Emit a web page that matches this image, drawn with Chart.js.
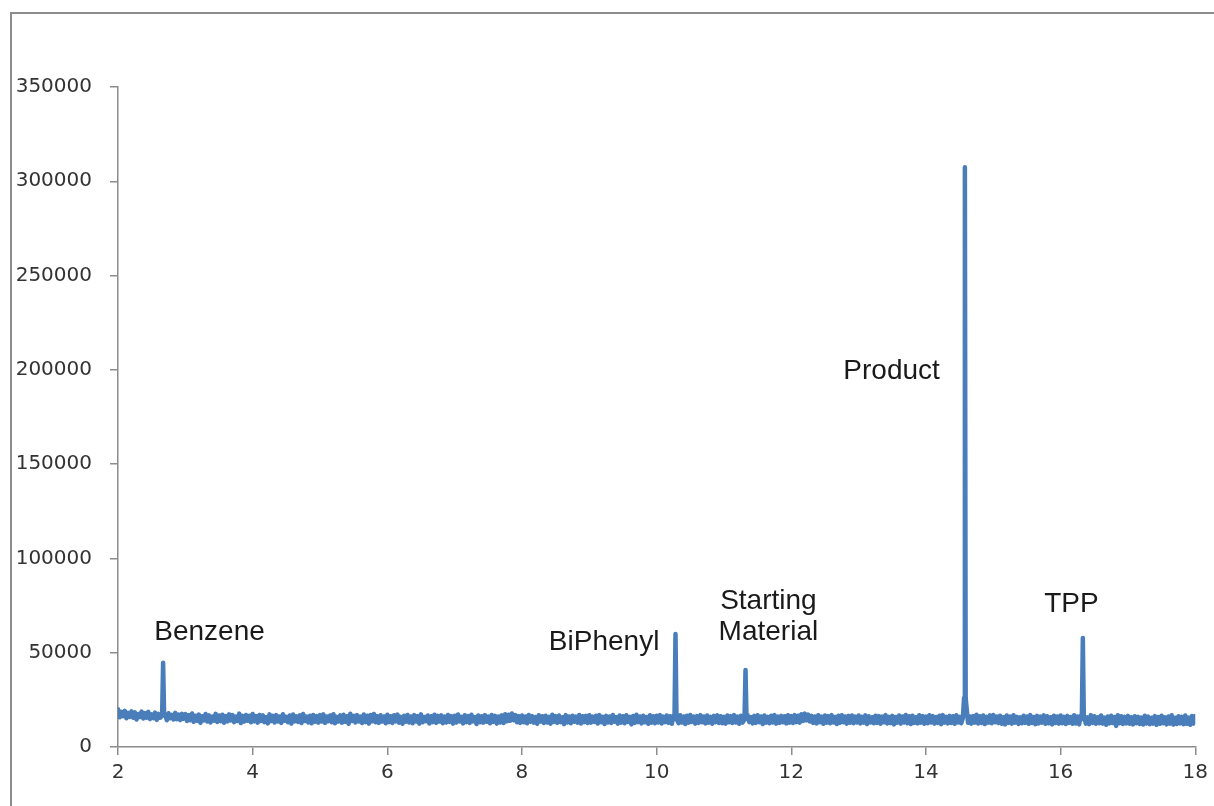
<!DOCTYPE html>
<html>
<head>
<meta charset="utf-8">
<script src="https://cdn.jsdelivr.net/npm/chart.js@4.4.1/dist/chart.umd.min.js"></script>
<style>
  html, body { margin: 0; padding: 0; background: #ffffff; }
  body { width: 1214px; height: 806px; position: relative; overflow: hidden; }
  #frame { position: absolute; left: 10px; top: 12px; width: 1300px; height: 900px;
           border-top: 2px solid #8c8c8c; border-left: 2px solid #8c8c8c; box-sizing: border-box; }
  #wrap { position: absolute; left: 0; top: 0; width: 1214px; height: 806px; }
</style>
</head>
<body>
<div id="frame"></div>
<div id="wrap"><canvas id="c" width="1214" height="806"></canvas></div>
<script>
// Retention time sampling of the baseline (minutes)
const baseStart = 2.0;
const midStart = 2.025;
const baseStep = 0.05;
// Baseline detector signal (thousands of counts), samples at 2.000, 2.050, ... 18.000
const baselineHiK = [
  20.0,18.6,19.2,18.1,18.9,18.4,17.5,18.8,18.0,18.6,17.3,18.2,17.6,18.5,17.4,17.9,17.0,18.1,17.2,17.6,
  17.4,16.9,17.8,16.6,17.2,16.3,17.5,16.8,16.2,17.6,16.7,17.1,16.4,17.3,16.9,16.1,17.7,16.5,17.0,16.6,
  17.5,16.4,17.0,16.8,15.9,17.3,16.5,16.9,16.2,17.4,16.0,16.7,17.2,16.3,16.8,17.5,16.1,16.6,17.0,16.4,
  16.9,17.3,16.2,16.7,17.4,16.0,16.8,17.1,16.3,17.6,16.5,16.9,16.1,17.2,16.6,17.0,17.5,16.4,16.8,16.2,
  17.1,16.3,16.8,17.2,16.0,16.6,17.0,16.2,16.9,16.4,17.3,15.9,16.7,16.3,17.1,16.5,16.8,16.1,17.0,16.4,
  16.6,17.2,16.0,16.8,16.4,17.1,15.8,16.7,16.3,16.9,16.1,17.0,16.5,16.2,16.8,17.4,17.1,17.8,16.9,16.4,
  16.7,16.2,17.0,16.4,15.9,16.8,16.3,16.6,16.0,17.1,16.4,16.7,15.8,16.9,16.2,16.6,16.1,17.0,16.3,16.5,
  16.8,16.1,16.6,16.9,16.0,16.5,16.2,17.0,15.9,16.7,16.3,16.8,16.0,16.4,17.1,16.2,16.6,15.9,16.8,16.3,
  16.6,16.9,16.1,16.7,16.3,16.5,16.0,16.8,16.2,16.6,17.0,16.1,16.4,16.9,16.2,16.7,16.0,16.5,16.8,16.3,
  16.0,16.7,16.4,16.9,16.1,16.6,16.3,17.0,15.9,16.5,16.8,16.2,16.7,16.0,16.6,16.9,16.1,16.5,16.3,16.8,
  16.4,16.9,16.6,17.4,17.7,17.2,16.5,16.2,16.8,16.1,16.7,16.4,16.9,15.9,16.6,16.8,16.2,16.5,16.7,16.1,
  16.7,16.0,16.8,16.3,15.8,16.6,16.4,16.1,16.9,16.0,16.5,15.9,16.7,16.2,17.0,16.3,16.6,15.8,16.8,16.4,
  16.1,16.8,16.4,15.9,16.6,16.9,16.0,16.5,16.3,16.8,16.0,16.6,16.9,16.2,16.4,17.1,16.3,16.7,16.0,16.8,
  17.0,16.2,16.6,15.8,16.7,16.1,16.8,16.0,15.7,16.6,16.2,16.9,15.9,16.5,16.1,16.8,16.3,15.8,16.6,16.2,
  16.7,16.0,16.5,15.9,16.8,16.2,16.6,16.1,15.7,16.9,16.3,15.8,16.7,15.6,16.2,16.6,15.9,16.8,16.3,16.0,
  16.5,15.8,16.3,16.0,15.6,16.6,16.1,15.5,16.4,15.9,16.6,15.7,16.2,16.8,15.5,16.3,16.0,16.7,15.6,16.4,
  16.4
];
// Intermediate baseline samples (thousands of counts) at 2.025, 2.075, ... 17.975
const baselineLoK = [
  15.8,16.4,15.2,16.0,15.5,14.6,15.9,15.1,15.6,14.8,15.3,14.4,15.5,14.9,14.2,15.3,14.6,14.8,14.3,15.0,
  13.8,14.2,13.4,13.9,12.8,14.1,13.5,13.0,14.0,13.3,13.7,12.9,13.6,14.1,13.2,13.8,12.7,13.5,13.9,13.1,
  13.6,12.9,13.8,13.2,12.5,13.7,13.0,13.5,12.8,13.9,13.1,12.4,13.6,13.3,12.7,13.8,13.0,12.6,13.4,12.9,
  13.5,12.8,13.7,13.1,12.6,13.6,12.9,13.4,12.3,13.8,13.0,13.5,12.7,13.2,12.4,13.6,13.1,12.8,13.5,12.6,
  13.2,12.7,13.6,12.9,12.3,13.4,13.0,12.6,13.5,12.4,13.1,13.7,12.5,13.2,12.8,13.5,12.6,13.0,13.3,12.4,
  13.0,13.5,12.5,13.2,12.8,13.6,12.2,13.1,12.9,13.4,12.6,13.3,12.4,13.0,12.7,13.6,13.9,14.2,13.1,12.8,
  13.1,12.6,13.4,12.9,12.3,13.5,12.7,13.0,12.4,13.3,12.8,13.2,12.1,13.0,12.6,13.4,12.9,12.5,13.2,12.7,
  12.9,13.3,12.5,13.1,12.2,13.0,12.7,13.4,12.4,12.9,12.6,13.3,12.0,12.8,13.2,12.5,13.1,12.3,12.9,12.6,
  13.0,12.5,13.2,12.8,12.3,13.1,12.6,13.0,12.2,12.9,13.3,12.4,12.8,13.1,12.5,12.9,12.3,13.2,12.7,12.6,
  12.4,13.1,12.7,13.0,12.3,12.9,12.6,13.2,12.5,12.8,13.1,12.2,12.9,12.6,13.0,12.4,12.8,13.1,12.5,12.9,
  12.7,13.2,12.9,13.8,14.1,13.5,12.8,12.5,13.1,12.3,12.9,12.6,13.0,12.2,12.8,13.1,12.4,12.9,12.6,13.0,
  12.5,12.9,12.2,13.0,12.6,12.8,12.3,13.1,12.5,12.7,12.0,12.9,12.4,13.0,12.6,12.2,12.8,12.5,12.9,12.3,
  12.6,13.0,12.4,12.8,12.1,12.9,12.5,12.7,12.3,13.0,12.6,12.2,12.8,12.4,12.9,12.5,12.7,12.2,12.9,12.6,
  13.1,12.7,12.3,12.0,12.8,12.4,12.9,12.2,12.6,12.8,12.3,12.7,12.1,12.5,12.9,12.3,12.6,12.0,12.7,12.4,
  12.6,12.2,12.8,12.3,12.5,12.0,12.7,12.4,12.1,12.8,12.3,12.6,12.4,11.8,12.5,12.7,11.2,12.6,12.2,12.5,
  12.3,12.0,12.6,12.2,11.9,12.5,12.1,12.4,11.8,12.3,12.6,12.0,12.4,11.9,12.2,12.5,12.1,12.3,11.8,12.4
];

// Peak profiles: [time (min), signal (thousands)]
const peakBenzene  = [[2.655,16.5],[2.67,44.7],[2.685,16.8]];
const peakBiPhenyl = [[10.265,14.8],[10.28,59.9],[10.295,15.2]];
const peakStarting = [[11.305,14.6],[11.32,40.8],[11.335,15.0]];
const peakProduct  = [[14.548,15.5],[14.566,26.0],[14.578,307.5],[14.590,26.0],[14.612,17.5]];
const peakTPP      = [[16.315,14.8],[16.33,57.8],[16.345,15.4]];

// Annotation labels: text lines, anchor time, anchor signal
const labelTexts = [["Benzene"], ["BiPhenyl"], ["Starting", "Material"], ["Product"], ["TPP"]];
const labelTimes = [3.36, 9.22, 11.66, 13.49, 16.16];
const labelSignals = [61000, 55700, 77400, 199400, 75800];

// Axis ticks
const xTicks = [2, 4, 6, 8, 10, 12, 14, 16, 18];
const yTicks = [0, 50000, 100000, 150000, 200000, 250000, 300000, 350000];

// Build series
const peaks = [peakBenzene, peakBiPhenyl, peakStarting, peakProduct, peakTPP];
const inPeak = t => peaks.some(p => t >= p[0][0] - 0.005 && t <= p[p.length - 1][0] + 0.005);
let pts = [];
baselineHiK.forEach((v, i) => {
  const t = +(baseStart + i * baseStep).toFixed(3);
  if (!inPeak(t)) pts.push({ x: t, y: v * 1000 });
});
baselineLoK.forEach((v, i) => {
  const t = +(midStart + i * baseStep).toFixed(3);
  if (!inPeak(t)) pts.push({ x: t, y: v * 1000 });
});
peaks.forEach(p => p.forEach(([t, v]) => pts.push({ x: t, y: v * 1000 })));
pts.sort((a, b) => a.x - b.x);

const labelPlugin = {
  id: 'peakLabels',
  afterDatasetsDraw(chart) {
    const { ctx, scales } = chart;
    ctx.save();
    ctx.font = '28px "Liberation Sans", Arial, sans-serif';
    ctx.fillStyle = '#1a1a1a';
    ctx.textAlign = 'center';
    ctx.textBaseline = 'middle';
    labelTexts.forEach((lines, i) => {
      const px = scales.x.getPixelForValue(labelTimes[i]);
      const py = scales.y.getPixelForValue(labelSignals[i]);
      lines.forEach((ln, j) => ctx.fillText(ln, px, py + j * 31));
    });
    ctx.restore();
  }
};

new Chart(document.getElementById('c'), {
  type: 'line',
  data: {
    datasets: [{
      data: pts,
      borderColor: '#4a7ebb',
      borderWidth: 4.5,
      pointRadius: 0,
      tension: 0,
      fill: false,
      borderJoinStyle: 'round',
      borderCapStyle: 'round'
    }]
  },
  options: {
    responsive: false,
    animation: false,
    layout: { padding: { left: 0, right: 17, top: 87, bottom: 0 } },
    plugins: { legend: { display: false }, tooltip: { enabled: false } },
    scales: {
      x: {
        type: 'linear',
        min: 2, max: 18,
        afterBuildTicks: s => { s.ticks = xTicks.map(v => ({ value: v })); },
        afterFit: s => { s.height = 59; },
        grid: { drawOnChartArea: false, drawTicks: true, tickLength: 8, color: '#8c8c8c', lineWidth: 1.5 },
        border: { display: true, color: '#8c8c8c', width: 1.5 },
        ticks: { color: '#333333', font: { family: '"DejaVu Sans", sans-serif', size: 20 }, padding: 6, maxRotation: 0 }
      },
      y: {
        min: 0, max: 350000,
        afterBuildTicks: s => { s.ticks = yTicks.map(v => ({ value: v })); },
        afterFit: s => { s.width = 118; },
        grid: { drawOnChartArea: false, drawTicks: true, tickLength: 8, color: '#8c8c8c', lineWidth: 1.5 },
        border: { display: true, color: '#8c8c8c', width: 1.5 },
        ticks: { color: '#333333', font: { family: '"DejaVu Sans", sans-serif', size: 20 }, padding: 18,
                 callback: v => String(v) }
      }
    }
  },
  plugins: [labelPlugin]
});
</script>
</body>
</html>
